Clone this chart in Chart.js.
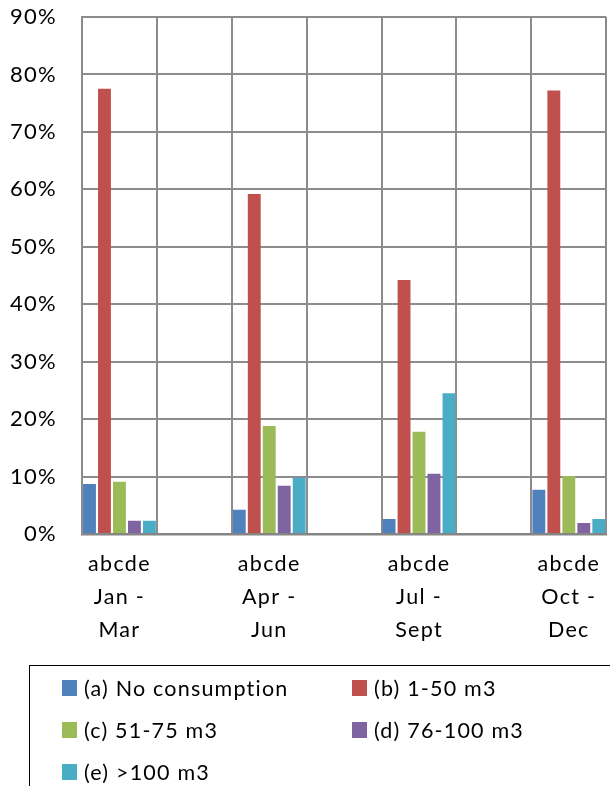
<!DOCTYPE html>
<html>
<head>
<meta charset="utf-8">
<script src="https://cdn.jsdelivr.net/npm/chart.js@4.4.1/dist/chart.umd.min.js"></script>
<style>
  html, body { margin: 0; padding: 0; background: #fff; }
  body { width: 610px; height: 786px; overflow: hidden; position: relative; font-family: Lato, sans-serif; }
  #wrap { position: absolute; left: 0; top: 0; width: 610px; height: 786px; }
  #legend {
    position: absolute; left: 29px; top: 665px; width: 640px; height: 160px;
    border: 1.5px solid #000; box-sizing: border-box;
  }
  .item { position: absolute; font-size: 21.5px; letter-spacing: 1.2px; color: #000; line-height: 22px; white-space: nowrap; }
  .item span.sw { position: absolute; left: 0; top: 1px; width: 15px; height: 16px; }
  .item span.tx { position: absolute; left: 22px; top: -2px; }
</style>
</head>
<body>
<div id="wrap"><canvas id="c" width="610" height="786"></canvas></div>
<div id="legend"></div>
<script>
// ---- data ----
const groupNames = [["abcde", "Jan -", "Mar"], ["abcde", "Apr -", "Jun"], ["abcde", "Jul -", "Sept"], ["abcde", "Oct -", "Dec"]];
const seriesNames = ["(a) No consumption", "(b) 1-50 m3", "(c) 51-75 m3", "(d) 76-100 m3", "(e) >100 m3"];
const seriesA = [8.7, 4.2, 2.6, 7.7];
const seriesB = [77.5, 59.2, 44.2, 77.2];
const seriesC = [9.1, 18.8, 17.8, 10.1];
const seriesD = [2.3, 8.4, 10.5, 1.9];
const seriesE = [2.3, 9.8, 24.5, 2.6];
const yTicks = [0, 10, 20, 30, 40, 50, 60, 70, 80, 90];
const colors = ["#4F81BD", "#C0504D", "#9BBB59", "#8064A2", "#4BACC6"];

// categories with empty spacer categories between groups
const labels = [];
groupNames.forEach((g, i) => { if (i > 0) labels.push(""); labels.push(g); });
function spread(arr) {
  const out = [];
  arr.forEach((v, i) => { if (i > 0) out.push(null); out.push(v); });
  return out;
}
const allSeries = [seriesA, seriesB, seriesC, seriesD, seriesE];
const datasets = allSeries.map((s, i) => ({
  label: seriesNames[i],
  data: spread(s),
  backgroundColor: colors[i],
  borderWidth: 0,
  barPercentage: 0.86,
  categoryPercentage: 1.0
}));

const spacing = {
  id: 'spacing',
  beforeDraw(chart) { chart.ctx.letterSpacing = '1.3px'; }
};

const chart = new Chart(document.getElementById('c'), {
  type: 'bar',
  data: { labels, datasets },
  plugins: [spacing],
  options: {
    responsive: false,
    animation: false,
    devicePixelRatio: 1,
    layout: { padding: { top: 17, right: 1, bottom: 0, left: 0 } },
    plugins: { legend: { display: false }, tooltip: { enabled: false } },
    scales: {
      x: {
        grid: { color: '#8c8c8c', lineWidth: 2, offset: true, drawTicks: false },
        border: { color: '#858585', width: 2.5 },
        ticks: {
          color: '#000', padding: 13, maxRotation: 0, autoSkip: false,
          font: { family: 'Lato', size: 21.5, lineHeight: 1.55 }
        },
        afterFit(scale) { scale.height = 252; }
      },
      y: {
        min: 0, max: 90,
        afterBuildTicks(scale) { scale.ticks = yTicks.map(v => ({ value: v })); },
        grid: { color: '#8c8c8c', lineWidth: 2, drawTicks: false },
        border: { color: '#8c8c8c', width: 2 },
        ticks: {
          color: '#000', padding: 25,
          font: { family: 'Lato', size: 22, lineHeight: 0.1 },
          callback: v => v + '%'
        },
        afterFit(scale) { scale.width = 82; scale.paddingTop = 0; scale.paddingBottom = 0; }
      }
    }
  }
});

// legend (built from chart datasets)
const legend = document.getElementById('legend');
const pos = [[32, 13], [322, 13], [32, 55], [322, 55], [32, 97]];
chart.data.datasets.forEach((ds, i) => {
  const it = document.createElement('div');
  it.className = 'item';
  it.style.left = pos[i][0] + 'px';
  it.style.top = pos[i][1] + 'px';
  const sw = document.createElement('span');
  sw.className = 'sw';
  sw.style.background = ds.backgroundColor;
  const tx = document.createElement('span');
  tx.className = 'tx';
  tx.textContent = ds.label;
  it.appendChild(sw); it.appendChild(tx);
  legend.appendChild(it);
});
</script>
</body>
</html>
